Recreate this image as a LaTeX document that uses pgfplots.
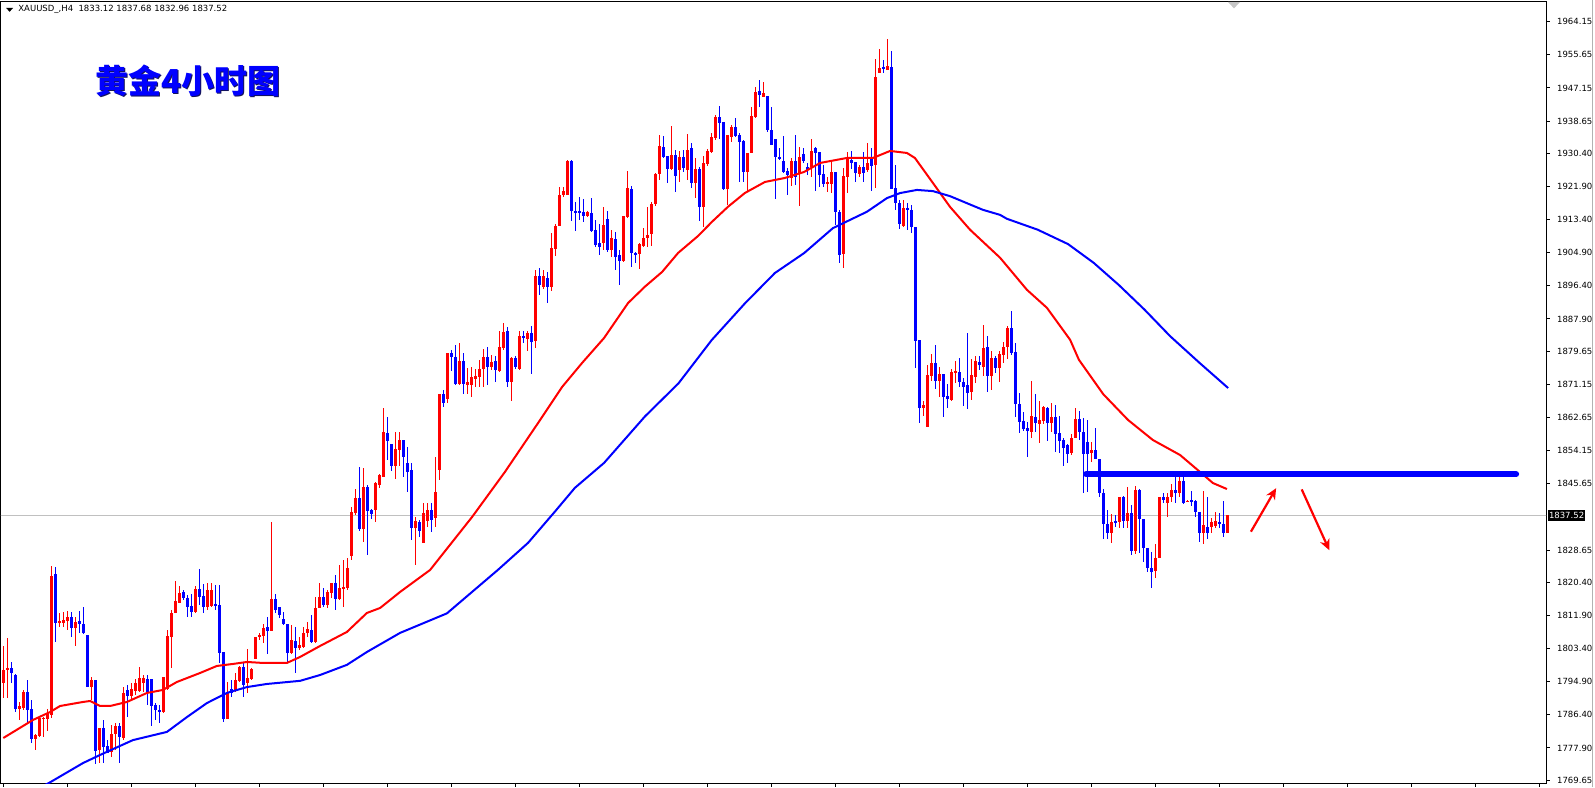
\documentclass[border=0pt]{standalone}
\usepackage{fontspec}
\setmainfont{DejaVu Sans}
\newfontfamily\cjk{Noto Sans CJK SC}
\usepackage{pgfplots}
\usepackage{pgfplotstable}
\pgfplotsset{compat=1.18}
\usetikzlibrary{arrows.meta}

\definecolor{mtred}{RGB}{255,0,0}
\definecolor{mtblue}{RGB}{0,0,255}
\definecolor{bidgray}{RGB}{192,192,192}
\definecolor{shadow}{RGB}{20,20,90}

% XAUUSD H4 candles: index, open, high, low, close
\pgfplotstableread{
i o h l c
0 1794.5 1804.0 1790.6 1797.9
1 1798.0 1806.0 1790.6 1798.4
2 1798.4 1800.0 1794.5 1797.0
3 1796.6 1796.8 1787.2 1787.8
4 1788.0 1789.8 1785.0 1788.7
5 1788.2 1792.7 1787.6 1792.3
6 1792.3 1795.3 1784.2 1787.6
7 1788.0 1790.2 1779.1 1780.2
8 1780.2 1781.4 1777.4 1781.2
9 1780.9 1785.9 1780.8 1785.6
10 1785.3 1785.8 1780.8 1785.6
11 1785.3 1788.0 1782.3 1786.9
12 1786.3 1824.6 1785.5 1822.0
13 1822.5 1824.4 1805.1 1810.0
14 1810.0 1812.6 1808.8 1810.4
15 1810.0 1812.8 1808.8 1810.7
16 1810.5 1813.0 1808.1 1811.5
17 1811.5 1812.8 1806.4 1808.6
18 1808.6 1811.6 1804.0 1810.1
19 1810.4 1813.1 1807.3 1809.8
20 1809.8 1814.1 1807.0 1807.3
21 1806.9 1806.9 1793.6 1793.6
22 1793.6 1796.2 1790.2 1795.3
23 1795.3 1795.3 1773.7 1777.2
24 1777.4 1783.1 1774.0 1783.1
25 1783.1 1785.0 1774.1 1778.2
26 1778.4 1779.9 1776.5 1776.7
27 1776.8 1783.8 1775.7 1781.6
28 1781.4 1784.2 1777.4 1783.5
29 1783.5 1784.4 1774.1 1780.6
30 1780.4 1793.6 1779.9 1791.9
31 1792.7 1794.0 1785.9 1791.2
32 1791.2 1794.5 1790.4 1793.1
33 1792.6 1795.7 1791.5 1794.5
34 1792.6 1798.6 1792.3 1795.8
35 1794.5 1796.6 1792.3 1795.9
36 1795.7 1796.6 1788.9 1792.3
37 1795.6 1795.7 1783.6 1788.7
38 1788.9 1789.3 1785.0 1787.5
39 1787.6 1788.9 1784.4 1787.2
40 1787.2 1796.2 1786.8 1796.2
41 1793.0 1808.1 1792.7 1806.6
42 1806.4 1813.3 1798.3 1812.4
43 1812.4 1820.8 1812.4 1815.6
44 1815.1 1819.5 1815.1 1817.7
45 1817.8 1818.4 1815.8 1816.3
46 1816.3 1817.1 1811.6 1814.1
47 1814.3 1817.5 1811.6 1812.8
48 1812.8 1819.4 1812.6 1818.6
49 1818.6 1823.7 1814.6 1816.7
50 1816.9 1819.9 1812.6 1814.1
51 1814.0 1820.1 1813.3 1818.4
52 1814.4 1820.1 1814.1 1818.4
53 1814.7 1819.7 1813.3 1814.4
54 1814.6 1819.7 1799.6 1802.3
55 1802.5 1802.5 1784.6 1785.3
56 1785.3 1794.9 1785.3 1792.3
57 1792.9 1795.3 1791.0 1791.9
58 1792.7 1797.0 1792.3 1795.3
59 1795.1 1798.9 1794.9 1798.7
60 1798.7 1799.6 1791.0 1794.0
61 1794.5 1803.2 1791.9 1795.9
62 1795.5 1798.5 1795.3 1798.1
63 1800.7 1806.4 1800.7 1806.4
64 1806.3 1807.3 1805.6 1806.9
65 1806.7 1809.8 1804.9 1808.6
66 1808.8 1811.4 1802.1 1808.0
67 1808.0 1835.8 1808.0 1816.0
68 1816.0 1817.4 1812.4 1813.3
69 1814.1 1814.1 1811.1 1812.0
70 1810.9 1812.8 1809.4 1809.8
71 1809.8 1809.8 1800.0 1802.3
72 1802.3 1809.4 1802.1 1805.7
73 1805.4 1809.0 1797.0 1803.4
74 1803.4 1806.4 1803.0 1804.3
75 1803.7 1809.0 1803.4 1807.5
76 1807.3 1810.3 1806.4 1808.4
77 1808.1 1812.0 1804.9 1805.1
78 1805.1 1816.7 1804.9 1813.7
79 1813.7 1820.1 1813.7 1816.5
80 1816.7 1818.8 1814.1 1814.6
81 1814.5 1818.4 1813.7 1817.8
82 1817.7 1820.3 1816.3 1820.1
83 1820.1 1822.2 1813.3 1816.0
84 1816.0 1824.9 1815.8 1819.0
85 1818.8 1826.1 1814.1 1819.1
86 1818.8 1826.5 1818.4 1824.0
87 1827.1 1839.8 1826.1 1838.3
88 1838.1 1844.3 1837.6 1842.1
89 1842.1 1849.9 1833.6 1834.0
90 1834.0 1849.6 1830.8 1844.9
91 1844.9 1845.3 1827.5 1838.7
92 1838.9 1839.3 1836.5 1837.9
93 1838.9 1846.2 1835.9 1845.9
94 1845.3 1848.1 1844.5 1847.9
95 1847.5 1865.0 1847.5 1859.0
96 1858.7 1862.8 1851.7 1856.6
97 1855.8 1855.8 1849.0 1850.3
98 1850.3 1859.0 1846.9 1854.6
99 1854.3 1859.0 1850.2 1856.9
100 1856.9 1856.9 1847.5 1852.6
101 1850.9 1855.2 1843.6 1848.7
102 1849.2 1850.9 1831.2 1834.2
103 1834.2 1837.2 1824.8 1836.2
104 1835.9 1836.3 1831.9 1833.6
105 1830.5 1840.6 1830.5 1838.1
106 1836.2 1840.6 1834.6 1838.9
107 1838.9 1840.6 1833.2 1836.3
108 1836.8 1852.6 1834.5 1843.6
109 1849.2 1868.7 1846.6 1868.7
110 1868.7 1869.7 1865.4 1866.4
111 1867.4 1879.3 1866.3 1879.3
112 1879.3 1879.9 1874.6 1878.1
113 1878.2 1881.2 1871.0 1871.2
114 1871.2 1881.7 1871.0 1877.1
115 1877.1 1879.3 1868.8 1871.2
116 1871.1 1875.3 1868.8 1871.8
117 1871.1 1875.7 1867.8 1872.9
118 1872.6 1875.0 1870.4 1873.3
119 1873.1 1877.4 1870.4 1875.0
120 1875.0 1880.1 1870.4 1878.1
121 1878.1 1880.8 1871.0 1875.5
122 1875.5 1878.7 1874.8 1877.0
123 1877.1 1878.4 1871.8 1874.8
124 1874.6 1884.7 1874.4 1880.8
125 1880.4 1886.8 1879.9 1884.7
126 1884.8 1885.9 1870.5 1871.7
127 1871.7 1878.1 1866.9 1877.8
128 1877.9 1878.4 1875.2 1875.5
129 1875.0 1884.9 1874.8 1883.5
130 1883.5 1884.9 1881.8 1882.9
131 1882.8 1884.9 1879.8 1884.4
132 1884.4 1886.0 1873.8 1882.1
133 1882.3 1900.5 1880.4 1899.0
134 1899.0 1901.0 1894.1 1896.6
135 1896.0 1900.5 1895.5 1898.9
136 1898.3 1900.0 1892.1 1896.0
137 1896.0 1909.9 1895.0 1906.0
138 1905.8 1912.3 1904.0 1911.7
139 1911.7 1921.8 1911.7 1919.7
140 1919.7 1921.7 1919.3 1920.8
141 1919.7 1928.7 1919.7 1928.3
142 1928.4 1928.7 1913.1 1915.6
143 1915.5 1918.0 1910.5 1915.3
144 1915.6 1919.1 1913.3 1915.2
145 1915.4 1918.8 1912.9 1914.3
146 1914.3 1915.6 1914.1 1915.4
147 1915.2 1919.0 1910.3 1910.6
148 1910.7 1913.3 1906.4 1906.9
149 1907.3 1912.3 1904.3 1906.3
150 1907.5 1916.7 1905.6 1912.0
151 1913.5 1915.7 1905.2 1905.6
152 1905.6 1910.7 1903.9 1908.6
153 1908.4 1910.1 1900.5 1903.9
154 1904.3 1905.6 1896.6 1902.9
155 1902.9 1914.3 1902.6 1914.3
156 1914.1 1925.9 1913.7 1921.4
157 1921.2 1922.0 1901.3 1904.7
158 1904.9 1905.2 1902.2 1904.2
159 1904.6 1907.3 1900.8 1907.1
160 1906.6 1911.2 1906.5 1908.8
161 1908.6 1916.7 1906.5 1909.4
162 1909.6 1918.0 1906.5 1917.3
163 1917.3 1925.3 1917.0 1925.1
164 1925.1 1935.1 1923.5 1932.3
165 1932.1 1934.8 1929.1 1929.5
166 1929.7 1929.7 1922.9 1926.3
167 1926.4 1937.4 1926.1 1929.9
168 1930.0 1931.2 1920.6 1924.7
169 1926.1 1931.1 1923.1 1929.4
170 1929.4 1931.2 1925.7 1926.5
171 1926.1 1935.3 1923.5 1931.2
172 1931.7 1933.1 1921.4 1922.7
173 1922.7 1929.1 1918.9 1926.3
174 1926.4 1926.8 1913.1 1916.5
175 1916.5 1929.7 1911.4 1927.8
176 1927.7 1931.4 1927.1 1931.0
177 1930.8 1935.7 1930.4 1934.5
178 1934.2 1940.2 1933.8 1939.8
179 1939.8 1942.5 1934.2 1938.3
180 1938.3 1938.5 1921.0 1921.2
181 1921.2 1935.1 1917.1 1935.1
182 1934.7 1937.7 1933.4 1937.1
183 1937.1 1939.4 1934.7 1934.9
184 1935.1 1935.5 1923.1 1933.4
185 1933.6 1933.8 1923.1 1925.5
186 1925.5 1930.6 1920.6 1930.6
187 1930.6 1942.2 1930.4 1939.9
188 1939.8 1947.5 1939.4 1946.1
189 1946.4 1949.2 1942.2 1945.3
190 1944.9 1948.8 1944.8 1945.9
191 1945.1 1945.1 1935.9 1936.4
192 1936.5 1942.2 1932.5 1932.6
193 1934.1 1934.1 1918.6 1929.5
194 1929.5 1931.7 1928.7 1928.9
195 1928.5 1934.8 1925.4 1925.7
196 1925.9 1926.5 1919.7 1924.8
197 1924.0 1929.1 1922.0 1928.3
198 1928.4 1935.1 1922.3 1924.2
199 1925.3 1931.9 1916.9 1929.5
200 1930.1 1931.7 1927.8 1928.5
201 1927.0 1927.8 1924.8 1926.1
202 1926.8 1934.2 1924.4 1931.1
203 1931.7 1932.1 1920.6 1930.4
204 1930.7 1930.7 1921.8 1924.8
205 1925.1 1927.4 1921.8 1922.5
206 1922.7 1924.4 1920.6 1922.9
207 1922.5 1928.2 1920.1 1925.7
208 1925.7 1925.7 1912.0 1915.4
209 1915.4 1915.8 1902.2 1904.3
210 1904.6 1926.5 1900.9 1924.5
211 1924.4 1930.8 1920.1 1929.1
212 1928.8 1931.1 1926.5 1928.0
213 1928.2 1928.2 1923.1 1925.3
214 1925.1 1927.4 1924.4 1927.0
215 1927.0 1930.8 1923.1 1925.3
216 1926.1 1933.0 1925.7 1927.8
217 1929.4 1931.7 1920.6 1927.1
218 1927.4 1954.6 1921.4 1950.0
219 1951.1 1957.1 1950.9 1952.3
220 1952.4 1954.3 1950.9 1951.9
221 1951.8 1959.7 1951.8 1952.8
222 1952.6 1956.6 1921.2 1921.2
223 1921.6 1927.4 1915.9 1917.6
224 1917.7 1918.4 1911.1 1912.4
225 1911.7 1918.4 1911.6 1916.4
226 1916.3 1917.6 1910.7 1915.8
227 1915.8 1917.1 1909.9 1911.6
228 1911.6 1911.6 1875.4 1882.3
229 1882.5 1882.5 1861.3 1865.2
230 1865.2 1866.9 1863.0 1865.8
231 1860.3 1876.1 1860.3 1873.5
232 1873.3 1878.9 1872.1 1876.7
233 1876.7 1881.2 1870.0 1872.1
234 1872.1 1875.5 1868.0 1873.8
235 1873.8 1873.8 1862.8 1868.0
236 1868.2 1871.2 1865.2 1867.4
237 1867.1 1875.0 1866.9 1874.4
238 1874.1 1877.0 1871.6 1874.6
239 1874.4 1877.8 1870.5 1871.8
240 1871.7 1872.8 1865.6 1870.5
241 1871.0 1884.4 1864.8 1869.0
242 1869.3 1877.6 1867.1 1873.5
243 1873.1 1878.4 1871.6 1877.0
244 1877.0 1878.4 1874.8 1876.1
245 1875.7 1886.4 1873.3 1880.6
246 1880.6 1883.5 1869.1 1873.4
247 1873.4 1879.7 1869.7 1877.8
248 1877.8 1878.5 1874.1 1875.4
249 1875.4 1879.8 1871.8 1878.9
250 1878.8 1882.1 1876.7 1880.8
251 1880.8 1886.1 1877.6 1885.7
252 1885.7 1889.9 1878.7 1879.3
253 1879.5 1881.8 1862.7 1866.1
254 1866.1 1869.0 1858.8 1861.6
255 1861.7 1864.1 1859.3 1859.6
256 1860.0 1861.6 1852.6 1859.3
257 1859.0 1872.1 1857.3 1863.0
258 1862.7 1868.7 1859.0 1861.3
259 1860.9 1866.9 1856.2 1862.0
260 1861.8 1865.6 1861.0 1865.4
261 1865.2 1865.4 1856.7 1861.3
262 1861.3 1866.3 1859.0 1862.9
263 1862.9 1865.8 1853.9 1858.4
264 1858.8 1863.0 1853.6 1856.7
265 1857.0 1857.3 1850.3 1854.9
266 1855.5 1855.8 1851.0 1853.2
267 1853.6 1858.4 1853.0 1857.5
268 1857.5 1865.0 1857.3 1862.2
269 1862.2 1864.4 1856.9 1859.0
270 1859.0 1862.5 1843.2 1853.4
271 1856.4 1862.0 1843.6 1853.4
272 1853.6 1856.4 1851.3 1854.3
273 1854.3 1859.9 1851.9 1851.9
274 1851.9 1851.9 1842.2 1843.4
275 1843.4 1844.2 1831.6 1835.3
276 1835.3 1838.9 1831.6 1833.1
277 1833.1 1837.9 1830.5 1835.9
278 1836.2 1837.6 1834.6 1835.7
279 1835.9 1842.3 1834.2 1842.3
280 1842.3 1842.5 1834.2 1836.2
281 1836.2 1844.9 1834.2 1838.1
282 1838.1 1840.2 1827.4 1828.5
283 1828.5 1845.1 1827.6 1844.0
284 1844.0 1844.2 1827.8 1836.5
285 1836.5 1836.5 1825.7 1829.3
286 1829.3 1829.3 1823.1 1824.1
287 1824.1 1828.2 1818.8 1823.1
288 1823.4 1830.2 1821.4 1826.5
289 1826.5 1842.3 1826.5 1842.2
290 1842.2 1843.4 1840.8 1841.6
291 1840.8 1843.4 1837.2 1842.2
292 1842.2 1845.7 1841.0 1844.0
293 1844.0 1847.5 1840.8 1843.4
294 1843.4 1847.5 1842.3 1846.4
295 1846.4 1847.5 1840.4 1840.8
296 1841.0 1841.5 1840.9 1841.3
297 1841.6 1843.9 1839.9 1841.0
298 1841.2 1841.5 1837.2 1838.5
299 1838.5 1838.5 1830.8 1833.1
300 1833.1 1843.9 1830.2 1835.1
301 1834.6 1842.2 1831.6 1833.1
302 1834.5 1836.8 1832.9 1835.9
303 1834.8 1838.5 1834.2 1836.2
304 1835.9 1838.2 1834.2 1835.3
305 1835.3 1841.2 1831.9 1833.1
306 1833.12 1837.68 1832.96 1837.52
}\candles

\pgfplotsset{
  candle/.style n args={2}{draw=none, mark=none, forget plot,
    error bars/y dir=both, error bars/y explicit,
    error bars/error mark=none,
    error bars/error bar style={draw=#1, line width=#2, solid}},
}

\begin{document}
\begin{tikzpicture}
\fill[white] (0,0) rectangle (797.5pt,393.5pt);
\useasboundingbox (0,0) rectangle (797.5pt,393.5pt);

\begin{axis}[
  at={(0.5pt,2pt)}, anchor=south west,
  width=772.5pt, height=390.5pt, scale only axis,
  xmin=-0.575, xmax=385.675,
  ymin=1768.90, ymax=1969.20,
  axis line style={line width=0.5pt},
  tick align=outside, major tick length=1.75pt,
  tick style={black, line width=0.5pt},
  xtick={0,16,...,384}, xticklabels={}, xtick pos=bottom,
  ytick pos=right, yticklabel pos=right,
  ytick={1769.65,1777.90,1786.40,1794.90,1803.40,1811.90,1820.40,1828.65,1845.65,1854.15,1862.65,1871.15,1879.65,1887.90,1896.40,1904.90,1913.40,1921.90,1930.40,1938.65,1947.15,1955.65,1964.15},
  yticklabels={1769.65,1777.90,1786.40,1794.90,1803.40,1811.90,1820.40,1828.65,1845.65,1854.15,1862.65,1871.15,1879.65,1887.90,1896.40,1904.90,1913.40,1921.90,1930.40,1938.65,1947.15,1955.65,1964.15},
  tick label style={font=\fontsize{4.25}{5}\selectfont, black},
  yticklabel style={anchor=west, xshift=0.3pt},
]

% bid line
\addplot[bidgray, line width=0.5pt] coordinates {(-1,1837.52) (387,1837.52)};

% wicks
\addplot[restrict expr to domain={\thisrow{c}-\thisrow{o}}{0:500}, candle={mtred}{0.5pt}]
  table[x=i, y expr={(\thisrow{h}+\thisrow{l})/2}, y error expr={(\thisrow{h}-\thisrow{l})/2}] {\candles};
\addplot[restrict expr to domain={\thisrow{c}-\thisrow{o}}{-500:-0.001}, candle={mtblue}{0.5pt}]
  table[x=i, y expr={(\thisrow{h}+\thisrow{l})/2}, y error expr={(\thisrow{h}-\thisrow{l})/2}] {\candles};
% bodies
\addplot[restrict expr to domain={\thisrow{c}-\thisrow{o}}{0:500}, candle={mtred}{1.5pt}]
  table[x=i, y expr={(\thisrow{o}+\thisrow{c})/2}, y error expr={max(abs(\thisrow{c}-\thisrow{o})/2,0.13)}] {\candles};
\addplot[restrict expr to domain={\thisrow{c}-\thisrow{o}}{-500:-0.001}, candle={mtblue}{1.5pt}]
  table[x=i, y expr={(\thisrow{o}+\thisrow{c})/2}, y error expr={max(abs(\thisrow{c}-\thisrow{o})/2,0.13)}] {\candles};

% fast moving average
\addplot[mtred, line width=1pt] coordinates {
(0,1780.44) (7.4,1785.06) (11.7,1787.11) (14.2,1788.65) (19.9,1789.68) (21.7,1789.93)
(24.2,1788.65) (26.7,1788.65) (30.9,1789.68) (35.9,1791.99) (39.9,1792.76) (43.4,1794.81)
(49.2,1797.12) (53.4,1798.92) (57.4,1799.43) (60.9,1799.94) (64.9,1799.69) (70.9,1799.69)
(74.2,1801.23) (79.2,1804.05) (85.9,1807.64) (90.9,1812.51) (94.2,1813.79) (99.2,1817.90)
(106.7,1823.54) (117.2,1837.13) (125.4,1848.67) (133.7,1861.24) (139.7,1870.47) (144.7,1876.63)
(150.2,1883.04) (156.2,1892.01) (160.4,1896.19) (164.7,1899.97) (168.7,1904.84) (173.7,1909.20)
(177.2,1912.86) (181.2,1916.71) (185.4,1920.22) (190.4,1923.04) (195.4,1924.07) (200.2,1925.61)
(204.2,1927.92) (210.9,1929.20) (217.4,1929.20) (221.7,1931.00) (225.9,1930.48) (227.9,1929.20)
(232.4,1922.79) (236.7,1916.63) (241.7,1910.78) (249.2,1903.60) (255.9,1895.39) (260.9,1890.77)
(266.7,1882.57) (268.9,1877.44) (275.0,1868.6) (281.2,1861.99) (287.4,1856.86) (294.2,1853.01)
(299.2,1848.65) (302.4,1845.83) (305.9,1844.29)
};

% slow moving average
\addplot[mtblue, line width=1pt] coordinates {
(9.4,1767.9) (11.4,1768.9) (19.9,1774.0) (24.2,1776.1) (32.4,1779.9) (40.9,1782.0)
(45.9,1785.8) (50.9,1789.4) (55.9,1792.0) (60.9,1793.5) (65.9,1794.3) (74.2,1795.1)
(79.2,1796.6) (85.9,1799.2) (90.9,1802.5) (99.2,1807.4) (110.9,1812.4) (123.7,1823.6)
(131.2,1830.5) (137.9,1838.5) (142.9,1844.6) (150.2,1851.0) (160.4,1862.9) (168.8,1871.4)
(177.1,1882.5) (185.4,1891.9) (192.9,1899.7) (200.2,1904.8) (207.4,1911.2) (215.9,1915.4)
(220.9,1918.9) (224.2,1920.2) (228.4,1921.0) (232.4,1920.7) (236.7,1919.4) (240.9,1917.6)
(244.9,1915.9) (249.2,1914.6) (250.9,1913.6) (258.6,1910.8) (266.2,1907.1) (272.6,1902.3)
(278.9,1896.6) (285.3,1890.3) (291.7,1883.5) (299.0,1876.7) (306.2,1870.2)
};

% drawn resistance line
\addplot[mtblue, line width=3pt, line cap=round] coordinates {(270.7,1848.1) (378.2,1848.1)};

% hand-drawn arrows
\draw[mtred, line width=1.1pt, -{Stealth[length=5.5pt,width=5pt]}]
  (axis cs:311.9,1833.35) -- (axis cs:318.2,1844.5);
\draw[mtred, line width=1.1pt, -{Stealth[length=5.5pt,width=5pt]}]
  (axis cs:324.6,1844.2) -- (axis cs:331.5,1828.6);

\coordinate (bid) at (axis cs:385.675,1837.52);
\end{axis}

% bid price label
\node[fill=black, text=white, font=\fontsize{4.25}{5}\selectfont,
      inner xsep=0.5pt, inner ysep=0pt, minimum height=5.5pt, anchor=west]
  at ([xshift=0.8pt]bid) {1837.52};

% right border of the price scale
\draw[gray!60, line width=0.5pt] (796pt,0) -- (796pt,393.5pt);

% shift marker at top
\fill[gray!45] (614pt,392.5pt) -- (620pt,392.5pt) -- (617pt,389.3pt) -- cycle;

% header
\fill[black] (3pt,389.6pt) -- (6.6pt,389.6pt) -- (4.8pt,387.6pt) -- cycle;
\node[anchor=west, inner sep=0pt, font=\fontsize{4.25}{5}\selectfont]
  at (9pt,388.6pt) {XAUUSD\_,H4\ \ 1833.12 1837.68 1832.96 1837.52};

% chart title
\node[text=shadow, font=\cjk\bfseries\fontsize{16.5}{18}\selectfont, inner sep=0pt]
  at (94.6pt,352.4pt) {黄金4小时图};
\node[text=mtblue, font=\cjk\bfseries\fontsize{16.5}{18}\selectfont, inner sep=0pt]
  at (94pt,353pt) {黄金4小时图};
\end{tikzpicture}
\end{document}
